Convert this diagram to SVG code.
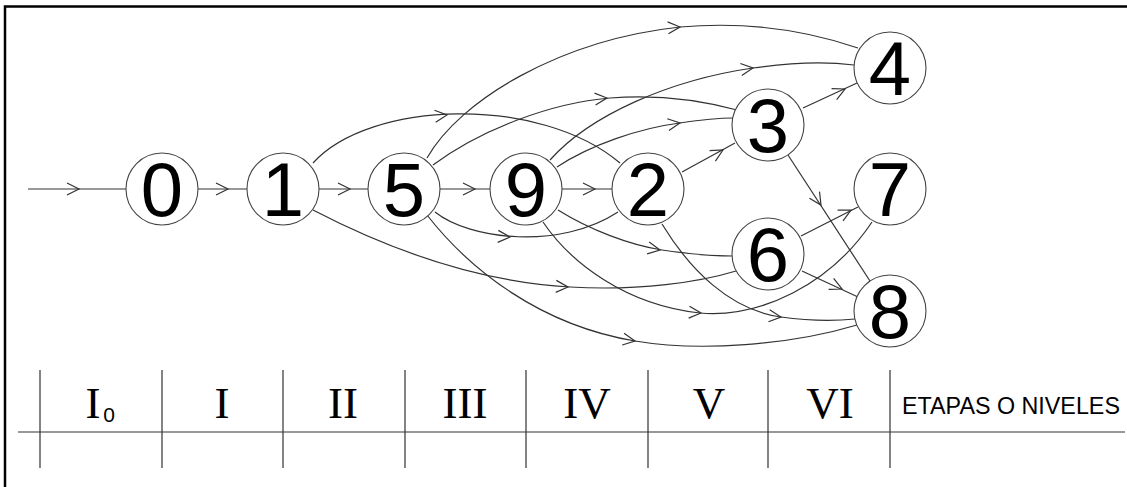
<svg xmlns="http://www.w3.org/2000/svg" xmlns:xlink="http://www.w3.org/1999/xlink" width="1127" height="487" viewBox="0 0 1127 487">
<style>
.e{fill:none;stroke:#333;stroke-width:1.2}
.a{fill:none;stroke:#333;stroke-width:1.2}
.c{fill:#fff;stroke:#444;stroke-width:1.1}
.n{font-family:"Liberation Sans",Arial,sans-serif;font-size:76px;text-anchor:middle;fill:#000}
.r{font-family:"Liberation Serif","Times New Roman",serif;font-size:45px;text-anchor:middle;fill:#000}
.t{stroke:#333;stroke-width:1.2;fill:none}
</style>
<defs>
<path id="ah" class="a" d="M-12,-6 L0,0 L-12,6"/>
</defs>
<rect width="1127" height="487" fill="#fff"/>
<path d="M5,487 V6.5 H1127" fill="none" stroke="#000" stroke-width="2.5"/>
<g id="connectors">
<path class="e" d="M28,189 H126"/>
<use href="#ah" transform="translate(79,189)"/>
<path class="e" d="M198,189 H247"/>
<use href="#ah" transform="translate(228,189)"/>
<path class="e" d="M319,189 H368"/>
<use href="#ah" transform="translate(350,189)"/>
<path class="e" d="M440,189 H490"/>
<use href="#ah" transform="translate(475,189)"/>
<path class="e" d="M562,189 H612"/>
<use href="#ah" transform="translate(595,189)"/>
<!-- 1->2 -->
<path class="e" d="M313,163 C370,100 540,95 620,163"/>
<use href="#ah" transform="translate(447,115) rotate(-6)"/>
<!-- 1->6 -->
<path class="e" d="M313,210 C390,250 480,282 570,287 C640,291 700,282 736,271"/>
<use href="#ah" transform="translate(568,287) rotate(3)"/>
<!-- 5->4 -->
<path class="e" d="M427,158 C460,100 560,40 680,27 C760,20 820,35 858,48"/>
<use href="#ah" transform="translate(680,27) rotate(-4)"/>
<!-- 5->3 -->
<path class="e" d="M433,165 C480,130 550,103 610,98 C660,94 700,100 737,110"/>
<use href="#ah" transform="translate(607,98) rotate(-5)"/>
<!-- 5->2 -->
<path class="e" d="M435,212 C470,240 560,250 618,212"/>
<use href="#ah" transform="translate(510,237) rotate(3)"/>
<!-- 5->8 -->
<path class="e" d="M427,215 C470,270 540,325 635,341 C700,352 790,345 857,325"/>
<use href="#ah" transform="translate(635,341) rotate(9)"/>
<!-- 9->4 -->
<path class="e" d="M550,160 C590,115 670,80 753,68 C795,62 830,62 854,65"/>
<use href="#ah" transform="translate(753,68) rotate(-7)"/>
<!-- 9->3 -->
<path class="e" d="M557,167 C590,145 640,128 680,123 C700,120 715,118 733,118"/>
<use href="#ah" transform="translate(680,123) rotate(-8)"/>
<!-- 9->6 -->
<path class="e" d="M558,210 C590,230 630,245 662,250 C690,254 710,256 732,256"/>
<use href="#ah" transform="translate(660,250) rotate(10)"/>
<!-- 9->7 -->
<path class="e" d="M543,222 C570,262 625,305 700,313 C760,318 830,285 872,222"/>
<use href="#ah" transform="translate(701,313) rotate(4)"/>
<!-- 2->3 -->
<path class="e" d="M682,172 L735,143"/>
<use href="#ah" transform="translate(723,150) rotate(-29)"/>
<!-- 2->8 -->
<path class="e" d="M662,224 C690,270 730,310 781,317 C810,321 835,321 855,319"/>
<use href="#ah" transform="translate(781,317) rotate(6)"/>
<!-- 3->4 -->
<path class="e" d="M803,108 L857,83"/>
<use href="#ah" transform="translate(845,89) rotate(-25)"/>
<!-- 3->8 -->
<path class="e" d="M788,155 L870,281"/>
<use href="#ah" transform="translate(821,205) rotate(57)"/>
<!-- 6->7 -->
<path class="e" d="M801,236 L858,207"/>
<use href="#ah" transform="translate(851,210) rotate(-27)"/>
<!-- 6->8 -->
<path class="e" d="M802,271 L858,297"/>
<use href="#ah" transform="translate(842,289) rotate(25)"/>
</g>
<g id="node0"><circle class="c" cx="162" cy="189" r="36"/><text class="n" x="162" y="216">0</text></g>
<g id="node1"><circle class="c" cx="283" cy="189" r="36"/><text class="n" x="283" y="216">1</text></g>
<g id="node5"><circle class="c" cx="404" cy="189" r="36"/><text class="n" x="404" y="216">5</text></g>
<g id="node9"><circle class="c" cx="526" cy="189" r="36"/><text class="n" x="526" y="216">9</text></g>
<g id="node2"><circle class="c" cx="648" cy="189" r="36"/><text class="n" x="648" y="216">2</text></g>
<g id="node3"><circle class="c" cx="768" cy="125" r="36"/><text class="n" x="768" y="152">3</text></g>
<g id="node4"><circle class="c" cx="890" cy="68" r="36"/><text class="n" x="890" y="95">4</text></g>
<g id="node7"><circle class="c" cx="890" cy="189" r="36"/><text class="n" x="890" y="216">7</text></g>
<g id="node6"><circle class="c" cx="768" cy="254" r="36"/><text class="n" x="768" y="281">6</text></g>
<g id="node8"><circle class="c" cx="890" cy="311" r="36"/><text class="n" x="890" y="338">8</text></g>
<g id="table">
<path class="t" d="M18,432 H1125 M40,370 V468 M162,370 V468 M283,370 V468 M405,370 V468 M526,370 V468 M648,370 V468 M768,370 V468 M890,370 V468"/>
<text class="r" x="93" y="418">I</text>
<text x="109" y="422" font-family="Liberation Sans, Arial, sans-serif" font-size="21" text-anchor="middle">0</text>
<text class="r" x="222" y="418">I</text>
<text class="r" x="343" y="418">II</text>
<text class="r" x="465" y="418">III</text>
<text class="r" x="587" y="418">IV</text>
<text class="r" x="709" y="418">V</text>
<text class="r" x="830" y="418">VI</text>
<text x="902" y="414" font-family="Liberation Sans, Arial, sans-serif" font-size="23.3">ETAPAS O NIVELES</text>
</g>
</svg>
